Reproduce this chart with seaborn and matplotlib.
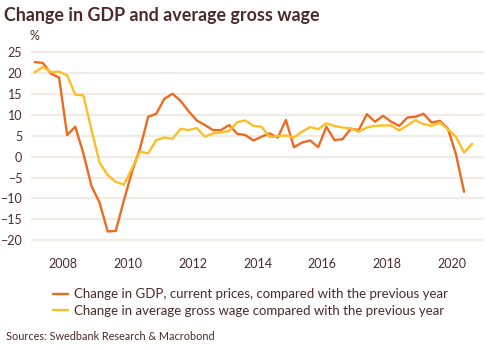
import numpy as np
import pandas as pd
import matplotlib.pyplot as plt
import seaborn as sns

# quarterly series, Q1 2007 onwards (% y/y)
gdp_start = "2007Q1"
gdp_change = [
    22.7, 22.5, 19.9, 19.0, 5.2, 7.2, 0.8, -7.0, -11.0, -17.9, -17.8, -10.5, -3.6, 2.0,
    9.6, 10.3, 13.9, 15.1, 13.4, 10.9, 8.7, 7.6, 6.4, 6.4, 7.6, 5.5, 5.2,
    3.9, 4.8, 5.6, 4.6, 8.8, 2.3, 3.4, 3.9, 2.3, 7.2, 4.0, 4.2, 6.7, 6.4,
    10.2, 8.4, 9.8, 8.4, 7.4, 9.4, 9.6, 10.3, 8.2, 8.6, 6.8, 0.6, -8.4,
]
wage_start = "2007Q1"
wage_change = [
    20.3, 21.5, 20.3, 20.4, 19.5, 14.9, 14.7, 6.5, -1.4, -4.4, -6.0, -6.7, -2.8, 1.2,
    0.8, 4.0, 4.6, 4.3, 6.7, 6.4, 6.9, 4.8, 5.6, 5.8, 6.2, 8.3, 8.7,
    7.4, 7.2, 4.7, 5.0, 5.1, 4.6, 6.0, 7.1, 6.6, 8.0, 7.4, 7.0, 6.8, 6.0,
    7.0, 7.4, 7.5, 7.5, 6.3, 7.5, 8.8, 7.8, 7.4, 8.2, 6.6, 4.8, 1.0, 3.1,
]
series_names = [
    "Change in GDP, current prices, compared with the previous year",
    "Change in average gross wage compared with the previous year",
]
year_ticks = [2008, 2010, 2012, 2014, 2016, 2018, 2020]
y_ticks = [25, 20, 15, 10, 5, 0, -5, -10, -15, -20]


def to_frame(start, values, name):
    q = pd.period_range(start, periods=len(values), freq="Q")
    return pd.DataFrame(dict(t=q.year + (q.quarter - 0.5) / 4, value=values, series=name))


df = pd.concat([
    to_frame(gdp_start, gdp_change, series_names[0]),
    to_frame(wage_start, wage_change, series_names[1]),
])

text_col = "#4b2a2a"
grid_col = "#f1ebe6"
palette = {series_names[0]: "#ec6b21", series_names[1]: "#fdbf26"}

sns.set_style("white")
plt.rcParams["font.family"] = ["Lato", "DejaVu Sans"]

fig = plt.figure(figsize=(5, 3.5), dpi=100)
ax = fig.add_axes([0.0614, 0.290, 0.9072, 0.572])

for y in y_ticks:
    ax.axhline(y, color=grid_col, lw=1.6, zorder=0)

sns.lineplot(data=df, x="t", y="value", hue="series", palette=palette,
             lw=1.7, ax=ax, legend=False)

ax.set_xlim(2007.0, 2021.0)
ax.set_ylim(-22, 26)
ax.set_xticks(year_ticks)
ax.set_yticks(y_ticks)
ax.tick_params(axis="x", length=4, width=0.8, color="#b9a9a4", labelcolor=text_col,
               labelsize=9, pad=3, direction="out")
ax.tick_params(axis="y", length=0, labelcolor=text_col, labelsize=9, pad=6)
ax.set_xlabel("")
ax.set_ylabel("")
sns.despine(ax=ax, left=True, bottom=True)

fig.text(0.008, 0.955, "Change in GDP and average gross wage", fontsize=12.9,
         fontweight="bold", color=text_col, va="center")
fig.text(0.058, 0.898, "%", fontsize=9, color=text_col, va="center")

handles = [plt.Line2D([], [], color=palette[n], lw=1.7) for n in series_names]
fig.legend(handles, series_names, loc="center", bbox_to_anchor=(0.5, 0.135),
           frameon=False, fontsize=9.5, handlelength=1.2, handletextpad=0.4,
           labelspacing=0.35, labelcolor=text_col)

fig.text(0.012, 0.04, "Sources: Swedbank Research & Macrobond", fontsize=7.8,
         color=text_col, va="center")

fig.savefig("out.png", dpi=100)
